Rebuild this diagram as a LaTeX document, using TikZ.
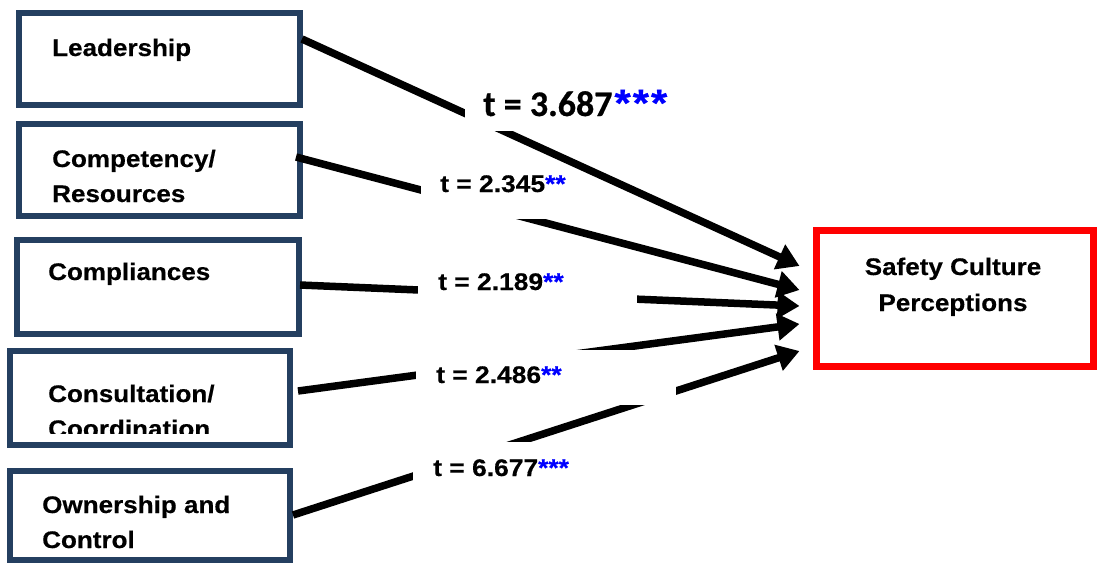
\documentclass[tikz,border=0pt]{standalone}
\usepackage{fontspec}
\usetikzlibrary{arrows.meta,calc}

\newfontfamily\boxfont[FakeStretch=1.085,FakeBold=0.4]{Liberation Sans}
\newfontfamily\valfont[FakeStretch=1.1,FakeBold=0.4]{Liberation Sans}
\newfontfamily\starfont[FakeStretch=1.1,FakeBold=0.6]{Liberation Sans}
\newfontfamily\bigvalfont[FakeBold=0.6]{Carlito}

\definecolor{boxnavy}{RGB}{36,63,96}
\definecolor{starblue}{RGB}{0,0,255}
\definecolor{outred}{RGB}{255,0,0}

\begin{document}
\begin{tikzpicture}[x=1pt,y=-1pt,
  factor/.style={draw=boxnavy,line width=6pt,inner sep=0pt,minimum width=#1},
  outcome/.style={draw=outred,line width=7pt,inner sep=0pt,minimum width=277pt,minimum height=136pt},
  boxtext/.style={anchor=base west,inner sep=0pt,font=\boxfont\bfseries\fontsize{24pt}{35pt}\selectfont},
  outtext/.style={anchor=base,inner sep=0pt,font=\boxfont\bfseries\fontsize{24pt}{35pt}\selectfont},
  tval/.style={anchor=base west,inner sep=0pt,font=\valfont\bfseries\fontsize{24pt}{28pt}\selectfont},
  tbig/.style={anchor=base west,inner sep=0pt,font=\bigvalfont\bfseries\fontsize{36pt}{40pt}\selectfont},
  path/.style={line width=7.5pt,-{Triangle[length=22pt,width=26pt]}},
  gap/.style={fill=white}]
\useasboundingbox (0,0) rectangle (1097,565);

% construct boxes
\node[factor=281pt,minimum height=92pt] (lead)    at (159.5,59)  {};
\node[factor=281pt,minimum height=92pt] (comp)    at (159.5,170) {};
\node[factor=282pt,minimum height=94pt] (compl)   at (158,287)   {};
\node[factor=280pt,minimum height=94pt] (consult) at (150,398)   {};
\node[factor=280pt,minimum height=89pt] (own)     at (150,515.5) {};
\node[outcome] (safety) at (955,298.5) {};

% paths into the outcome
\draw[path] ($(lead.east)+(-1,-20)$)   -- ($(safety.west)+(-13.5,-32.5)$);
\draw[path] ($(comp.east)+(-7,-13)$)   -- ($(safety.west)+(-13.5,-8.5)$);
\draw[path] ($(compl.east)+(-2,-2)$)   -- ($(safety.west)+(-13.5,7.5)$);
\draw[path] ($(consult.east)+(5,-7)$)  -- ($(safety.west)+(-13.5,25.5)$);
\draw[path] ($(own.east)+(0,-0.5)$)    -- ($(safety.west)+(-13.5,52.5)$);

% white frames behind the t values
\fill[gap] (465,85)  rectangle (690,131);
\fill[gap] (421,170) rectangle (575,219);
\fill[gap] (418,262) rectangle (637,312);
\fill[gap] (416,350) rectangle (676,405);
\fill[gap] (413,442) rectangle (600,500);

% t values
\node[tbig] (t1) at (483,116) {t = 3.687\kern2pt\textcolor{starblue}{\starfont\bfseries\fontsize{38pt}{40pt}\selectfont *\kern2pt*\kern2pt*}};
\node[tval] (t2) at (440,192) {t = 2.345\textcolor{starblue}{**}};
\node[tval] (t3) at (438,290) {t = 2.189\textcolor{starblue}{**}};
\node[tval] (t4) at (436,383) {t = 2.486\textcolor{starblue}{**}};
\node[tval] (t5) at (433,476) {t = 6.677\textcolor{starblue}{***}};

% construct names
\node[boxtext] (leadA) at (52,56)  {Leadership};
\node[boxtext] (compA) at (52,167) {Competency/};
\node[boxtext] (compB) at (52,202) {Resources};
\node[boxtext] (complA) at (48,280) {Compliances};
\node[boxtext] (consA) at (48,402) {Consultation/};
\begin{scope}
  \clip (0,0) rectangle (1097,433);
  \node[boxtext] (consB) at (48,437) {Coordination};
\end{scope}
\node[boxtext] (ownA) at (42,513) {Ownership and};
\node[boxtext] (ownB) at (42,548) {Control};
\node[outtext] (safeA) at (953,275) {Safety Culture};
\node[outtext] (safeB) at (953,311) {Perceptions};
\end{tikzpicture}
\end{document}
